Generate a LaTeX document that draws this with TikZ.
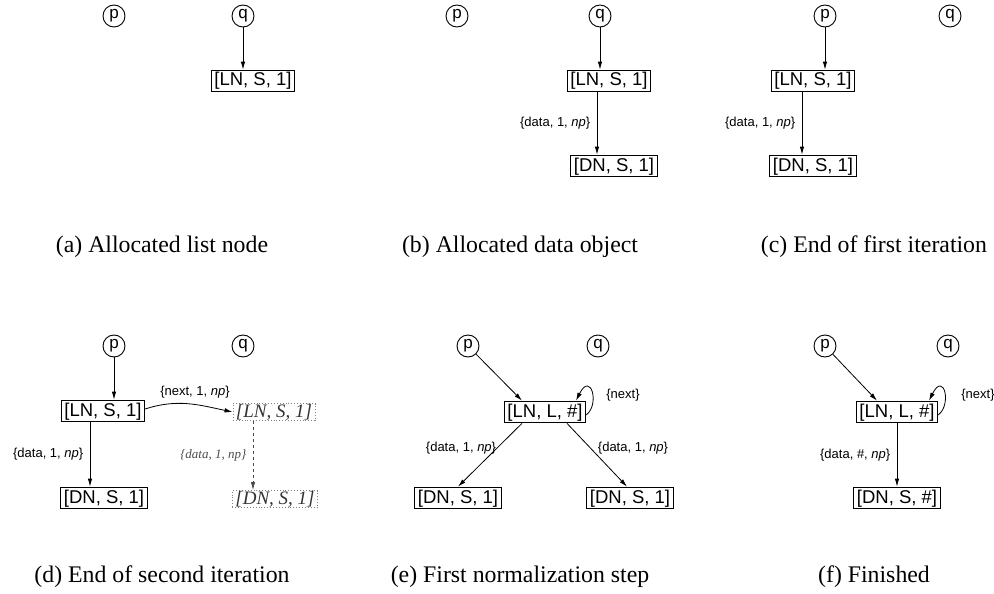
\documentclass[tikz,border=0pt]{standalone}
\usepackage{fontspec}
\setmainfont{Liberation Sans}
\newfontfamily\capfont{Liberation Serif}
\usetikzlibrary{arrows.meta}
\tikzset{
  box/.style={draw, line width=1.1pt, font=\fontsize{18.5}{21}\selectfont, inner xsep=3pt, inner ysep=1.8pt, text height=14pt, text depth=4pt},
  ghost/.style={draw=gray, dotted, line width=0.9pt, font=\capfont\itshape\fontsize{19}{22}\selectfont, text=black!80, inner xsep=3pt, inner ysep=0pt, text height=13.5pt, text depth=3.5pt},
  var/.style={circle, draw, line width=0.9pt, minimum size=22pt, inner sep=0pt, font=\fontsize{17}{19}\selectfont},
  arr/.style={-{Latex[length=8pt,width=4.5pt]}, line width=0.8pt},
  garr/.style={-{Latex[length=8pt,width=4.5pt]}, line width=0.8pt, dashed, draw=black!70},
  lbl/.style={font=\fontsize{13}{15}\selectfont},
  glbl/.style={font=\capfont\itshape\fontsize{13}{15}\selectfont, text=black!70},
  captext/.style={font=\capfont\fontsize{23.8}{26}\selectfont}
}
\begin{document}
\begin{tikzpicture}[x=1pt,y=-1pt]
\useasboundingbox (0,0) rectangle (994,594);

% ---------- (a)
\node[var] (pa) at (114,16) {p};
\node[var] (qa) at (243,16) {q};
\node[box] (LNa) at (253,81) {[LN, S, 1]};
\draw[arr] (qa) -- (qa |- LNa.north);
\node[captext] (capa) at (162,247) {(a) Allocated list node};

% ---------- (b)
\node[var] (pb) at (457,16) {p};
\node[var] (qb) at (600,16) {q};
\node[box] (LNb) at (609,81) {[LN, S, 1]};
\node[box] (DNb) at (614,166) {[DN, S, 1]};
\draw[arr] (qb) -- (qb |- LNb.north);
\draw[arr] ([xshift=-12pt]LNb.south) -- node[lbl, midway, left=3pt] {\{data, 1, \textit{np}\}} ([xshift=-17pt]DNb.north);
\node[captext] (capb) at (520,247) {(b) Allocated data object};

% ---------- (c)
\node[var] (pc) at (825,16) {p};
\node[var] (qc) at (950,16) {q};
\node[box] (LNc) at (813,81) {[LN, S, 1]};
\node[box] (DNc) at (813,166) {[DN, S, 1]};
\draw[arr] (pc) -- (pc |- LNc.north);
\draw[arr] ([xshift=-11pt]LNc.south) -- node[lbl, midway, left=3pt] {\{data, 1, \textit{np}\}} ([xshift=-11pt]DNc.north);
\node[captext] (capc) at (874,247) {(c) End of first iteration};

% ---------- (d)
\node[var] (pd) at (114,346) {p};
\node[var] (qd) at (243,346) {q};
\node[box] (LNd) at (103,411) {[LN, S, 1]};
\node[box] (DNd) at (104,498) {[DN, S, 1]};
\node[ghost] (LNg) at (274,412) {[LN, S, 1]};
\node[ghost] (DNg) at (275,499) {[DN, S, 1]};
\draw[arr] (pd) -- (pd |- LNd.north);
\draw[arr] ([xshift=-13pt]LNd.south) -- node[lbl, midway, left=3pt] {\{data, 1, \textit{np}\}} ([xshift=-14pt]DNd.north);
\draw[arr] ([yshift=2pt]LNd.east) to[out=18, in=168] (LNg.west);
\node[lbl] (nextd) at (195,392) {\{next, 1, \textit{np}\}};
\draw[garr] ([xshift=-21pt]LNg.south) -- node[glbl, midway, left=3pt] {\{data, 1, np\}} ([xshift=-22pt]DNg.north);
\node[captext] (capd) at (162,577) {(d) End of second iteration};

% ---------- (e)
\node[var] (pe) at (468,346) {p};
\node[var] (qe) at (598,346) {q};
\node[box] (LNe) at (545,412) {[LN, L, \#]};
\node[box] (DNe1) at (458,498) {[DN, S, 1]};
\node[box] (DNe2) at (630,498) {[DN, S, 1]};
\draw[arr] (pe) -- ([xshift=-23pt]LNe.north);
\draw[arr] ([yshift=-3pt]LNe.east) .. controls +(14,-10) and +(15,-30) .. ([xshift=31pt]LNe.north);
\node[lbl] (nexte) at (623,395) {\{next\}};
\draw[arr] ([xshift=-23pt]LNe.south) -- (DNe1.north);
\draw[arr] ([xshift=22pt]LNe.south) -- ([xshift=-3pt]DNe2.north);
\node[lbl] (le1) at (461,448) {\{data, 1, \textit{np}\}};
\node[lbl] (le2) at (633,448) {\{data, 1, \textit{np}\}};
\node[captext] (cape) at (520,577) {(e) First normalization step};

% ---------- (f)
\node[var] (pf) at (825,346) {p};
\node[var] (qf) at (948,346) {q};
\node[box] (LNf) at (897,412) {[LN, L, \#]};
\node[box] (DNf) at (897,498) {[DN, S, \#]};
\draw[arr] (pf) -- ([xshift=-20pt]LNf.north);
\draw[arr] ([yshift=-3pt]LNf.east) .. controls +(14,-10) and +(15,-30) .. ([xshift=32pt]LNf.north);
\node[lbl] (nextf) at (978,395) {\{next\}};
\draw[arr] (LNf.south) -- node[lbl, midway, left=3pt] {\{data, \#, \textit{np}\}} (DNf.north);
\node[captext] (capf) at (874,577) {(f) Finished};
\end{tikzpicture}
\end{document}
